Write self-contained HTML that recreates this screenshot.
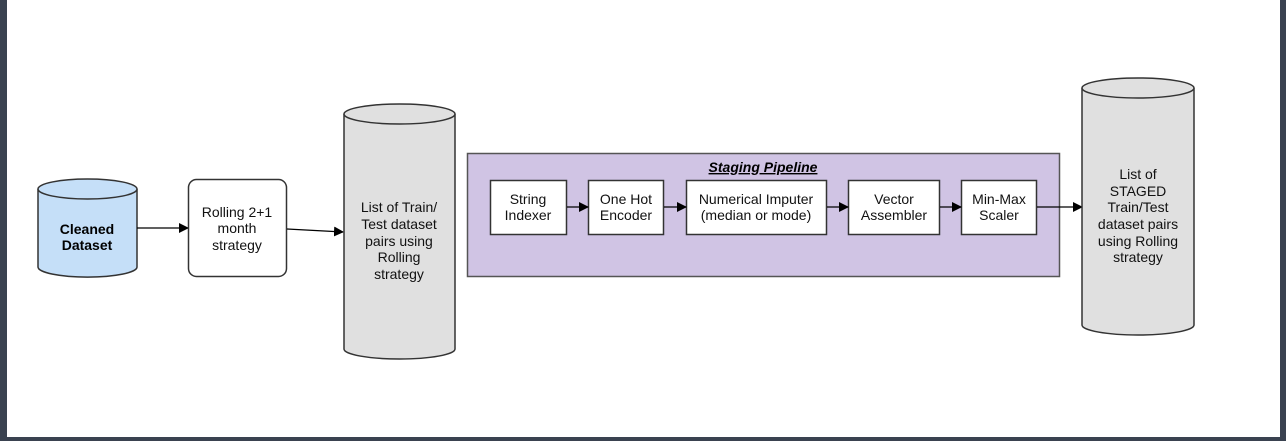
<!DOCTYPE html>
<html><head><style>
html,body{margin:0;padding:0;background:#fff}
body{width:1286px;height:441px;position:relative;overflow:hidden;font-family:"Liberation Sans","DejaVu Sans",sans-serif}
</style></head><body>
<svg width="1286" height="441" viewBox="0 0 1286 441" xmlns="http://www.w3.org/2000/svg" font-family="'Liberation Sans','DejaVu Sans',sans-serif">
<defs><marker id="a" markerWidth="10" markerHeight="10" refX="9" refY="5" orient="auto" markerUnits="userSpaceOnUse"><path d="M0,0 L10,5 L0,10 z" fill="#000"/></marker></defs>
<rect x="0" y="0" width="1286" height="441" fill="#3a4250"/>
<rect x="7" y="0" width="1273" height="437" fill="#fff"/>
<!-- cylinder 1 -->
<path d="M38,189 L38,267 A49,10 0 0 0 137,267 L137,189" fill="#c5dff8" stroke="#333" stroke-width="1.5"/>
<ellipse cx="87.5" cy="189" rx="49.5" ry="10" fill="#c5dff8" stroke="#333" stroke-width="1.5"/>
<text x="87" y="234" font-size="14" font-weight="bold" text-anchor="middle">Cleaned</text>
<text x="87" y="250" font-size="14" font-weight="bold" text-anchor="middle">Dataset</text>
<line x1="137" y1="228" x2="188" y2="228" stroke="#000" stroke-width="1.2" marker-end="url(#a)"/>
<rect x="188.5" y="179.5" width="98" height="97" rx="8" fill="#fff" stroke="#333" stroke-width="1.5"/>
<g font-size="14" text-anchor="middle" fill="#111"><text x="237" y="217">Rolling 2+1</text><text x="237" y="233">month</text><text x="237" y="250">strategy</text></g>
<line x1="287" y1="229" x2="343" y2="232" stroke="#000" stroke-width="1.2" marker-end="url(#a)"/>
<!-- cylinder 2 -->
<path d="M344,114 L344,349 A55.5,10 0 0 0 455,349 L455,114" fill="#e0e0e0" stroke="#333" stroke-width="1.5"/>
<ellipse cx="399.5" cy="114" rx="55.5" ry="10" fill="#e0e0e0" stroke="#333" stroke-width="1.5"/>
<g font-size="14" text-anchor="middle" fill="#111"><text x="399" y="212">List of Train/</text><text x="399" y="229">Test dataset</text><text x="399" y="246">pairs using</text><text x="399" y="262">Rolling</text><text x="399" y="279">strategy</text></g>
<!-- purple -->
<rect x="467.5" y="153.5" width="592" height="123" fill="#d0c4e4" stroke="#555" stroke-width="1.5"/>
<text x="763" y="172" font-size="14" font-weight="bold" font-style="italic" text-anchor="middle" text-decoration="underline">Staging Pipeline</text>
<g fill="#fff" stroke="#333" stroke-width="1.5">
<rect x="490.5" y="180.5" width="76" height="54"/>
<rect x="588.5" y="180.5" width="75" height="54"/>
<rect x="686.5" y="180.5" width="140" height="54"/>
<rect x="848.5" y="180.5" width="91" height="54"/>
<rect x="961.5" y="180.5" width="75" height="54"/>
</g>
<g font-size="14" text-anchor="middle" fill="#111">
<text x="528" y="204">String</text><text x="528" y="220">Indexer</text>
<text x="626" y="204">One Hot</text><text x="626" y="220">Encoder</text>
<text x="756" y="204">Numerical Imputer</text><text x="756" y="220">(median or mode)</text>
<text x="894" y="204">Vector</text><text x="894" y="220">Assembler</text>
<text x="999" y="204">Min-Max</text><text x="999" y="220">Scaler</text>
<text x="1138" y="179">List of</text><text x="1138" y="196">STAGED</text><text x="1138" y="212">Train/Test</text><text x="1138" y="229">dataset pairs</text><text x="1138" y="246">using Rolling</text><text x="1138" y="262">strategy</text>
</g>
<g stroke="#000" stroke-width="1.2" marker-end="url(#a)">
<line x1="567" y1="207" x2="588" y2="207"/>
<line x1="664" y1="207" x2="686" y2="207"/>
<line x1="827" y1="207" x2="848" y2="207"/>
<line x1="940" y1="207" x2="961" y2="207"/>
<line x1="1037" y1="207" x2="1082" y2="207"/>
</g>
<!-- cylinder 3 -->
<path d="M1082,88 L1082,325 A56,10 0 0 0 1194,325 L1194,88" fill="#e0e0e0" stroke="#333" stroke-width="1.5"/>
<ellipse cx="1138" cy="88" rx="56" ry="10" fill="#e0e0e0" stroke="#333" stroke-width="1.5"/>
<g font-size="14" text-anchor="middle" fill="#111"><text x="1138" y="179">List of</text><text x="1138" y="196">STAGED</text><text x="1138" y="212">Train/Test</text><text x="1138" y="229">dataset pairs</text><text x="1138" y="246">using Rolling</text><text x="1138" y="262">strategy</text></g>
</svg>
</body></html>
